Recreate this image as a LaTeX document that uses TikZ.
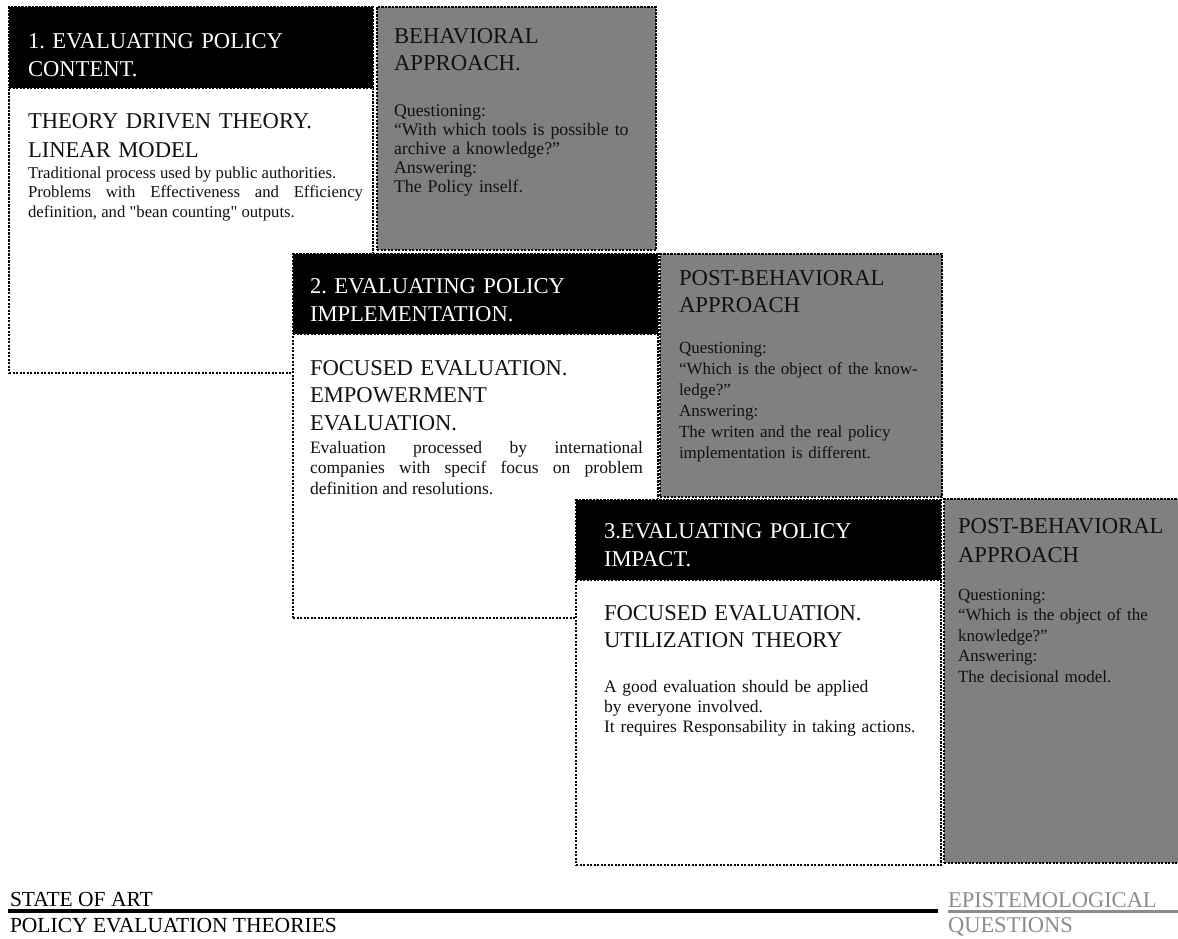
\documentclass[tikz,border=0pt]{standalone}
\usepackage{fontspec}
\setmainfont{Liberation Serif}
% same face without the TeX ligature mapping, for straight double quotes
\newfontfamily\plainquotes{Liberation Serif}
\definecolor{panelgray}{HTML}{808080}
\definecolor{labelgray}{HTML}{8C8C8C}
\definecolor{ink}{HTML}{111111}
\newcommand\hdsize{\fontsize{22.6}{28}\selectfont}
\newcommand\ttlsize{\fontsize{22.6}{28}\selectfont}
\newcommand\apsize{\fontsize{22.7}{27.5}\selectfont}
\newcommand\txtsize{\fontsize{16.7}{19.6}\selectfont}
\newcommand\qsize{\fontsize{17}{20.3}\selectfont}
\newcommand\footsize{\fontsize{21.5}{26}\selectfont}
\newcommand\footgraysize{\fontsize{22.5}{26}\selectfont}
\newcommand\sq{{\plainquotes"}}
\begin{document}
\frenchspacing
\begin{tikzpicture}[x=1pt,y=-1pt,
  dotframe/.style={draw=black,line width=1.3pt,dash pattern=on 2.2pt off 1.3pt,
    preaction={draw=white,solid,line width=1.8pt}},
  whitepanel/.style={dotframe,fill=white,anchor=north west,inner sep=0pt,outer sep=0pt},
  blackhead/.style={dotframe,fill=black,anchor=north west,inner sep=0pt,outer sep=0pt},
  graypanel/.style={dotframe,fill=panelgray,anchor=north west,inner sep=0pt,outer sep=0pt},
  txt/.style={anchor=base west,inner sep=0pt,outer sep=0pt},
  headtext/.style={txt,text=white,font=\hdsize,text width=340pt,align=left},
  titletext/.style={txt,text=ink,font=\ttlsize,text width=340pt,align=left},
  bodytext/.style={txt,text=ink,font=\txtsize},
  aptitle/.style={txt,text=ink,font=\apsize,text width=260pt,align=left},
  aptext/.style={txt,text=ink,font=\qsize,text width=260pt,align=left},
  footlabel/.style={txt,text=black,font=\footsize},
  footgray/.style={txt,text=labelgray,font=\footgraysize}]
\useasboundingbox (0,0) rectangle (1178,938);

% ---- 1. policy content ----
\node[whitepanel,minimum width=364pt,minimum height=366pt] (box1) at (9,7) {};
\node[blackhead,minimum width=364pt,minimum height=81pt] (head1) at (9,7) {};
\node[headtext] (head1txt) at (28,48) {1. EVALUATING POLICY\\CONTENT.};
\node[titletext,font=\fontsize{22.6}{29}\selectfont] (title1) at (28,128) {THEORY DRIVEN THEORY.\\LINEAR MODEL};
\node[bodytext,text width=335pt,align=justify] (body1) at (28,178)
  {Traditional process used by public authorities.\par
   Problems with Effectiveness and Efficiency\linebreak
   definition, and \sq bean counting\sq{} outputs.};

% behavioral approach
\node[graypanel,minimum width=279pt,minimum height=243pt] (app1) at (377,7) {};
\node[aptitle] (app1title) at (394,43) {BEHAVIORAL\\APPROACH.};
\node[aptext,font=\fontsize{17.8}{19.2}\selectfont] (app1txt) at (394,116)
  {Questioning:\\“With which tools is possible to\\archive a knowledge?”\\Answering:\\The Policy inself.};

% ---- 2. policy implementation ----
\node[whitepanel,minimum width=365pt,minimum height=364pt] (box2) at (293,254) {};
\node[blackhead,minimum width=365pt,minimum height=80pt] (head2) at (293,254) {};
\node[headtext] (head2txt) at (310,293) {2. EVALUATING POLICY\\IMPLEMENTATION.};
\node[titletext,font=\fontsize{22.6}{27.5}\selectfont] (title2) at (310,375) {FOCUSED EVALUATION.\\EMPOWERMENT\\EVALUATION.};
\node[bodytext,font=\fontsize{17.5}{20.5}\selectfont,text width=333pt,align=justify] (body2) at (310,453)
  {Evaluation processed by international\linebreak
   companies with specif focus on problem\linebreak
   definition and resolutions.};

% post-behavioral approach
\node[graypanel,minimum width=282pt,minimum height=243pt] (app2) at (660,254) {};
\node[aptitle] (app2title) at (679,285) {POST-BEHAVIORAL\\APPROACH};
\node[aptext,font=\fontsize{17}{21}\selectfont] (app2txt) at (679,353)
  {Questioning:\\“Which is the object of the know-\\ledge?”\\Answering:\\The writen and the real policy\\implementation is different.};

% ---- 3. policy impact ----
\node[whitepanel,minimum width=365pt,minimum height=365pt] (box3) at (576,500) {};
\node[blackhead,minimum width=365pt,minimum height=80pt] (head3) at (576,500) {};
\node[headtext] (head3txt) at (604,538) {3.EVALUATING POLICY\\IMPACT.};
\node[titletext,font=\fontsize{22.6}{27}\selectfont] (title3) at (604,620) {FOCUSED EVALUATION.\\UTILIZATION THEORY};
\node[bodytext,font=\fontsize{17.5}{20}\selectfont,text width=330pt,align=left] (body3) at (604,692)
  {A good evaluation should be applied\\by everyone involved.\\It requires Responsability in taking actions.};

% post-behavioral approach
\node[graypanel,minimum width=244pt,minimum height=364pt] (app3) at (944,499) {};
\node[aptitle,font=\fontsize{22.7}{29}\selectfont] (app3title) at (958,533) {POST-BEHAVIORAL\\APPROACH};
\node[aptext,text width=215pt,font=\fontsize{17}{20.5}\selectfont] (app3txt) at (958,600)
  {Questioning:\\“Which is the object of the\\knowledge?”\\Answering:\\The decisional model.};

% ---- legend rules ----
\coordinate (ruleA) at (8,911);
\coordinate (ruleB) at (938,911);
\coordinate (ruleC) at (948,911);
\coordinate (ruleD) at (1178,911);
\draw[line width=3.5pt] (ruleA) -- (ruleB);
\draw[line width=3pt,labelgray] (ruleC) -- (ruleD);
\node[footlabel] (state) at (10,906) {STATE OF ART};
\node[footlabel] (theories) at (10,932) {POLICY EVALUATION THEORIES};
\node[footgray] (episte) at (948,907) {EPISTEMOLOGICAL};
\node[footgray] (questions) at (948,932) {QUESTIONS};
\end{tikzpicture}
\end{document}
